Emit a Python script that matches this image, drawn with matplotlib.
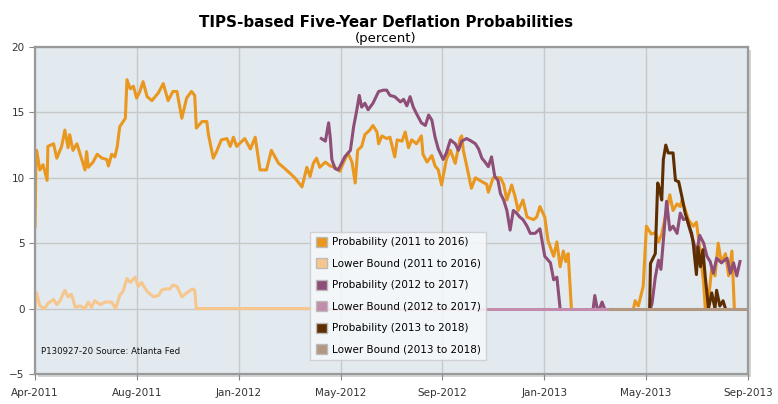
"""TIPS-based five-year deflation probabilities (Atlanta Fed chart)."""

import numpy as np
import matplotlib
matplotlib.use("Agg")
import matplotlib.pyplot as plt
from matplotlib.patches import Patch, Rectangle

NA = np.nan  # no published value (series hidden under the lower-bound line)

# x values are days since 1 Apr 2011
prob_2011_days = [0, 1, 2, 6, 10, 15, 16, 23, 27, 33, 37, 41, 43, 47, 52, 56, 62, 64, 66, 72, 77, 83, 89, 91,
                  95, 99, 102, 105, 112, 114, 118, 122, 126, 130, 134, 139, 145, 149, 153, 159, 165, 171, 176,
                  182, 188, 194, 198, 200, 207, 213, 215, 221, 225, 231, 238, 242, 246, 250, 260, 267, 273, 279,
                  287, 293, 302, 308, 316, 322, 331, 337, 341, 345, 349, 353, 360, 366, 372, 378, 382, 388, 393,
                  397, 400, 405, 409, 415, 419, 424, 426, 430, 436, 440, 446, 449, 455, 459, 463, 467, 473, 479,
                  481, 486, 492, 496, 500, 504, 510, 515, 521, 527, 529, 531, 537, 541, 546, 554, 560, 562, 568,
                  577, 581, 585, 591, 595, 599, 605, 610, 618, 622, 626, 632, 636, 643, 647, 651, 655, 658, 661,
                  665, 700, 742, 744, 748, 754, 758, 764, 769, 773, 777, 783, 787, 791, 796, 800, 802, 806, 810,
                  816, 820, 824, 829, 831, 835, 839, 843, 847, 851, 856, 860, 864, 867]
prob_2011 = [6.3, 10.6, 12.1, 10.6, 11.0, 9.8, 12.4, 12.6, 11.5, 12.4, 13.65, 12.3, 13.3, 12.1, 12.6, 11.8, 10.6,
             12.0, 10.8, 11.2, 11.8, 11.5, 11.4, 10.9, 11.8, 11.6, 12.4, 13.9, 14.55, 17.5, 16.8, 17.0, 16.1,
             16.6, 17.35, 16.2, 15.9, 16.2, 16.5, 17.2, 15.9, 16.6, 16.6, 14.55, 16.1, 16.6, 16.3, 13.8, 14.3,
             14.3, 13.3, 11.5, 12.0, 12.9, 13.0, 12.4, 13.1, 12.4, 13.0, 12.2, 13.1, 10.6, 10.6, 12.1, 11.1,
             10.8, 10.35, 10.0, 9.3, 10.8, 10.1, 11.1, 11.5, 10.8, 11.2, 10.9, 10.8, 10.5, 11.1, 11.9, 11.2,
             9.6, 12.1, 12.4, 13.3, 13.65, 14.0, 13.5, 12.6, 13.2, 13.0, 13.1, 11.6, 12.9, 12.8, 13.5, 12.3,
             12.9, 12.6, 13.2, 11.8, 11.2, 11.7, 10.9, 10.6, 9.45, 11.4, 12.1, 11.1, 13.0, 13.2, 12.1, 10.4,
             9.2, 10.0, 9.7, 9.5, 8.9, 10.0, 10.0, 9.5, 8.3, 9.45, 8.6, 7.5, 8.3, 7.0, 6.8, 7.0, 7.8, 7.0, 5.2,
             4.0, 5.1, 3.2, 4.4, 3.6, 4.2, 0.0, NA, 0.0, 0.6, 0.2, 1.7, 6.3, 5.7, 5.8, 5.1, 5.7, 7.5, 8.7, 7.5,
             8.0, 7.8, 8.3, 7.6, 6.8, 6.3, 6.6, 4.7, 1.9, 0.0, 0.7, 3.1, 2.5, 5.0, 3.5, 4.2, 2.5, 4.4, 0.0]

lower_2011_days = [0, 2, 6, 12, 16, 23, 27, 31, 37, 41, 45, 50, 56, 62, 66, 70, 74, 81, 87, 95, 100, 105, 109,
                   114, 118, 124, 128, 132, 139, 147, 153, 157, 161, 167, 171, 176, 182, 188, 195, 198, 200, 356]
lower_2011 = [0.0, 1.2, 0.2, 0.0, 0.4, 0.7, 0.3, 0.6, 1.4, 0.9, 1.1, 0.1, 0.2, 0.0, 0.5, 0.1, 0.6, 0.3, 0.5,
              0.5, 0.0, 1.0, 1.3, 2.3, 2.0, 2.4, 1.7, 2.0, 1.3, 0.9, 1.0, 1.4, 1.5, 1.5, 1.8, 1.7, 0.9, 1.2,
              1.5, 1.4, 0.0, 0.0]

prob_2012_days = [355, 360, 364, 366, 368, 372, 376, 380, 384, 391, 395, 399, 402, 405, 409, 413, 419, 426, 432,
                  436, 440, 446, 453, 457, 461, 465, 469, 473, 479, 484, 488, 492, 496, 500, 506, 510, 515, 521,
                  525, 529, 535, 541, 546, 550, 554, 558, 562, 566, 570, 574, 577, 581, 585, 589, 593, 597, 601,
                  605, 610, 614, 620, 626, 632, 639, 643, 647, 651, 670, 692, 694, 697, 700, 703, 706, 730, 763,
                  765, 769, 773, 776, 779, 783, 787, 791, 796, 800, 804, 808, 812, 816, 820, 824, 829, 833, 837,
                  841, 845, 851, 858, 862, 866, 870, 874]
prob_2012 = [13.0, 12.8, 14.2, 13.1, 11.4, 10.7, 10.6, 11.1, 11.6, 12.1, 13.9, 15.2, 16.3, 15.4, 15.7, 15.2,
             15.7, 16.6, 16.7, 16.7, 16.3, 16.2, 15.8, 16.0, 15.5, 16.2, 15.4, 14.9, 14.2, 14.0, 14.8, 14.4,
             13.1, 12.2, 11.4, 11.9, 12.9, 12.6, 12.1, 12.8, 13.0, 12.8, 12.6, 12.2, 11.5, 11.2, 10.85, 11.6,
             10.1, 9.8, 8.8, 8.3, 7.5, 6.0, 7.5, 7.3, 7.0, 6.8, 6.3, 5.75, 5.75, 6.1, 4.0, 3.5, 2.2, 2.4, 0.0,
             NA, 0.0, 1.0, 0.0, 0.0, 0.5, 0.0, NA, 0.0, 0.4, 2.4, 3.7, 3.0, 5.2, 8.2, 6.0, 6.3, 5.75, 7.3,
             6.8, 6.9, 6.0, 5.2, 4.2, 5.6, 5.0, 4.0, 3.6, 2.7, 3.85, 3.5, 3.85, 2.7, 3.5, 2.5, 3.6]

lower_2012_days = [356, 713]
lower_2012 = [0.0, 0.0]

prob_2013_days = [762, 763, 769, 772, 774, 777, 779, 782, 785, 791, 794, 798, 802, 806, 810, 814, 816, 820,
                  822, 825, 828, 831, 835, 839, 843, 845, 849, 853, 856]
prob_2013 = [0.0, 3.45, 4.2, 9.6, 9.2, 8.3, 11.4, 12.5, 11.9, 11.9, 9.8, 9.7, 8.55, 7.3, 6.5, 5.75, 5.0,
             2.6, 4.7, 3.2, 4.5, 2.4, 0.0, 1.2, 0.0, 1.4, 0.2, 0.6, 0.0]

lower_2013_days = [713, 884]
lower_2013 = [0.0, 0.0]

x_tick_labels = ["Apr-2011", "Aug-2011", "Jan-2012", "May-2012", "Sep-2012", "Jan-2013", "May-2013", "Sep-2013"]
y_ticks = [-5, 0, 5, 10, 15, 20]

SERIES = [
    ("Probability (2011 to 2016)", prob_2011_days, prob_2011, "#E9971E"),
    ("Lower Bound (2011 to 2016)", lower_2011_days, lower_2011, "#F6C68C"),
    ("Probability (2012 to 2017)", prob_2012_days, prob_2012, "#8E4E78"),
    ("Lower Bound (2012 to 2017)", lower_2012_days, lower_2012, "#C38CAC"),
    ("Probability (2013 to 2018)", prob_2013_days, prob_2013, "#5E2E00"),
    ("Lower Bound (2013 to 2018)", lower_2013_days, lower_2013, "#B39881"),
]

plt.rcParams["font.family"] = ["DejaVu Sans"]

AX_RECT = [0.045, 0.0743, 0.9165, 0.8094]
fig = plt.figure(figsize=(7.78, 4.04), dpi=100)

# soft drop shadow behind the plot frame
fig.patches.append(Rectangle((AX_RECT[0] + 0.004, AX_RECT[1] - 0.007), AX_RECT[2], AX_RECT[3],
                             transform=fig.transFigure, facecolor="#D4D4D4", edgecolor="none", zorder=-1))

ax = fig.add_axes(AX_RECT)
ax.set_facecolor("#E2EAEF")

for label, xs, ys, color in SERIES:
    ax.plot(xs, ys, color=color, linewidth=2.2, solid_joinstyle="round")

ax.set_xlim(0, 884)
ax.set_ylim(-5, 20)
ax.set_xticks(np.linspace(0, 884, len(x_tick_labels)))
ax.set_xticklabels(x_tick_labels)
ax.set_yticks(y_ticks)
ax.grid(True, color="#C8C8C8", linewidth=1)
ax.set_axisbelow(True)
ax.tick_params(labelsize=7.5, colors="#333333", length=4, width=0.8, color="#888888")
ax.tick_params(axis="x", pad=6)
for side in ["left", "right", "top", "bottom"]:
    ax.spines[side].set_color("#9A9A9A")
    ax.spines[side].set_linewidth(1.6)

handles = [Patch(facecolor=c, edgecolor="#BBBBBB", linewidth=1, label=l) for l, _, _, c in SERIES]
leg = ax.legend(handles=handles, loc="lower left", bbox_to_anchor=(0.379, 0.027), fontsize=7.5,
                frameon=True, fancybox=False, framealpha=0.85, edgecolor="#CCCCCC",
                handlelength=1.1, handleheight=1.1, labelspacing=1.05, borderpad=0.5, handletextpad=0.5)
leg.get_frame().set_facecolor("#F7F9FB")

ax.text(0.008, 0.062, "P130927-20 Source: Atlanta Fed", transform=ax.transAxes, fontsize=6.2, color="#111111")

fig.text(0.496, 0.945, "TIPS-based Five-Year Deflation Probabilities", ha="center", va="center",
         fontsize=10.9, fontweight="bold")
fig.text(0.496, 0.905, "(percent)", ha="center", va="center", fontsize=9.5)

fig.savefig("out.png", dpi=100)
